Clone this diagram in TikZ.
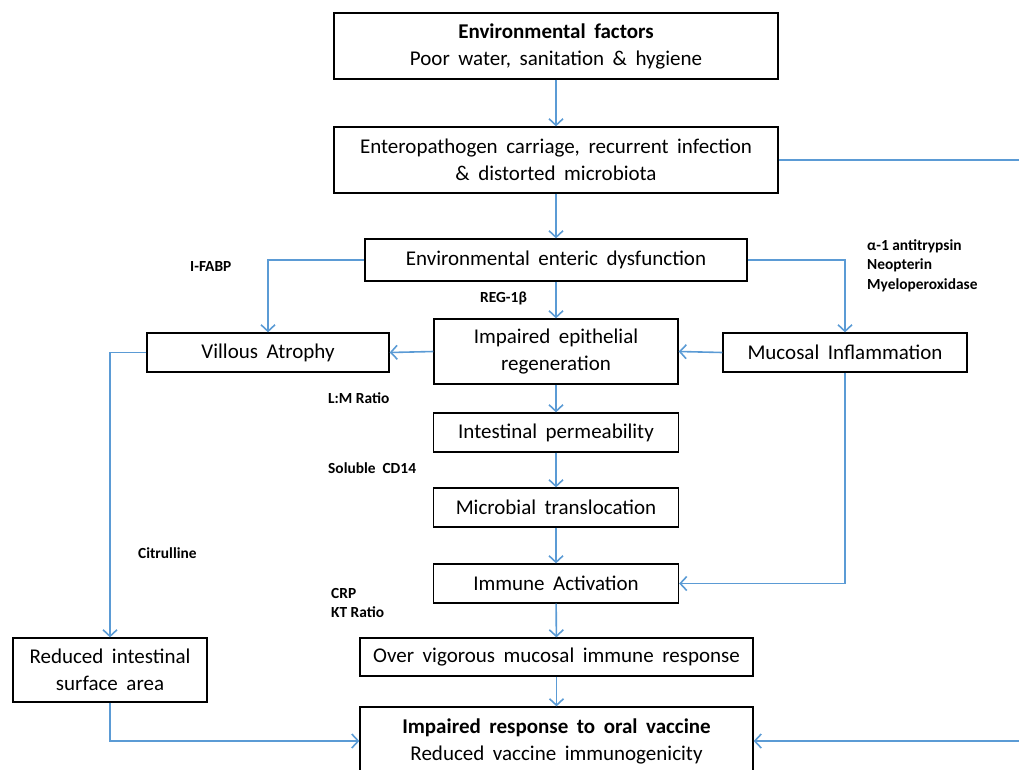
\documentclass[tikz,border=0pt]{standalone}
\usepackage{fontspec}
\setmainfont{Carlito}
\newfontfamily\boxfont{Carlito}[WordSpace=1.8]
\usetikzlibrary{arrows.meta}
\definecolor{arrblue}{RGB}{91,155,213}
\begin{document}
\begin{tikzpicture}[x=1pt,y=-1pt,
  box/.style={draw=black, line width=1.3pt, fill=white, align=center, inner sep=0pt,
    font=\boxfont\fontsize{21}{27}\selectfont},
  arr/.style={draw=arrblue, line width=1.6pt, -{Straight Barb[length=6.5pt,width=14pt,line width=1.6pt]}},
  ln/.style={draw=arrblue, line width=1.6pt},
  lab/.style={anchor=west, inner sep=0pt, font=\fontsize{15.4}{18}\selectfont\bfseries}]
\useasboundingbox (0,0) rectangle (1019,769);
% boxes
\node[box, minimum width=444pt, minimum height=66pt] (env) at (556,46) {\textbf{Environmental factors}\\Poor water, sanitation \& hygiene};
\node[box, minimum width=444pt, minimum height=66pt] (ent) at (556,160) {Enteropathogen carriage, recurrent infection\\\& distorted microbiota};
\node[box, minimum width=382pt, minimum height=42pt] (eed) at (556,260) {Environmental enteric dysfunction};
\node[box, minimum width=242pt, minimum height=39pt] (vil) at (268,352.5) {Villous Atrophy};
\node[box, minimum width=244pt, minimum height=65pt] (imp) at (556,351.5) {Impaired epithelial\\regeneration};
\node[box, minimum width=244pt, minimum height=39pt] (muc) at (845,352.5) {Mucosal Inflammation};
\node[box, minimum width=245pt, minimum height=39pt] (ip) at (556,432.5) {Intestinal permeability};
\node[box, minimum width=245pt, minimum height=39pt] (mt) at (556,507.5) {Microbial translocation};
\node[box, minimum width=245pt, minimum height=39pt] (ia) at (556,583.5) {Immune Activation};
\node[box, minimum width=393pt, minimum height=38pt] (ov) at (556.5,657) {Over vigorous mucosal immune response};
\node[box, minimum width=393pt, minimum height=68pt] (fin) at (556.5,741) {\textbf{Impaired response to oral vaccine}\\Reduced vaccine immunogenicity};
\node[box, minimum width=194pt, minimum height=64pt] (red) at (110,670) {Reduced intestinal\\surface area};
% edge coordinates
\coordinate (rtop) at (1019,160);
\coordinate (rbot) at (1019,741);
% connectors
\draw[arr] (env) -- (ent);
\draw[arr] (ent) -- (eed);
\draw[ln] (ent.east) -- (rtop);
\draw[arr] (rbot) -- (fin.east);
\draw[arr] (eed.west) -| (vil.north);
\draw[arr] (eed.east) -| (muc.north);
\draw[arr] (eed) -- (imp);
\draw[arr] (imp.west) -- (vil.east);
\draw[arr] (muc.west) -- (imp.east);
\draw[arr] (imp) -- (ip);
\draw[arr] (ip) -- (mt);
\draw[arr] (mt) -- (ia);
\draw[arr] (ia) -- (ov);
\draw[arr] (ov) -- (fin);
\draw[arr] (muc.south) |- (ia.east);
\draw[arr] (vil.west) -| (red.north);
\draw[arr] (red.south) |- (fin.west);
% labels
\node[lab] (l1) at (190,267) {I-FABP};
\node[lab] (l2) at (480,298) {REG-1β};
\node[lab] (l3) at (867,246) {α-1 antitrypsin};
\node[lab] (l4) at (867,265) {Neopterin};
\node[lab] (l5) at (867,285) {Myeloperoxidase};
\node[lab] (l6) at (328,398) {L:M Ratio};
\node[lab] (l7) at (328,468) {Soluble\ \ CD14};
\node[lab] (l8) at (138,553) {Citrulline};
\node[lab] (l9) at (331,593) {CRP};
\node[lab] (l10) at (331,612) {KT Ratio};
\end{tikzpicture}
\end{document}
